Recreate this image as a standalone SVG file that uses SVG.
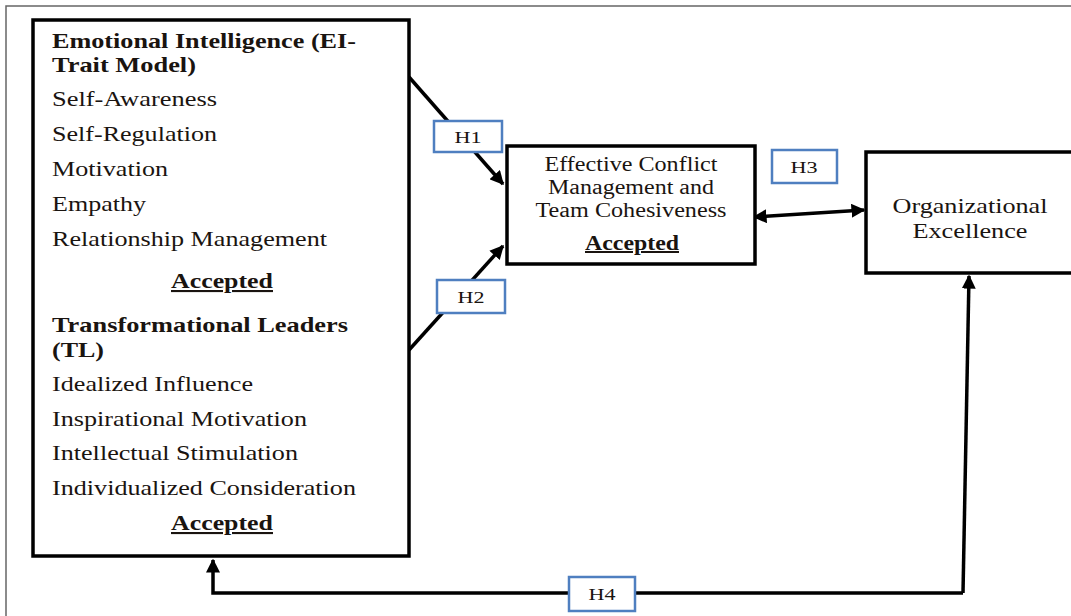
<svg xmlns="http://www.w3.org/2000/svg" width="1071" height="616" viewBox="0 0 1071 616">
<defs>
<marker id="ah" viewBox="0 0 10 10" refX="9" refY="5" markerWidth="4" markerHeight="4" orient="auto-start-reverse" markerUnits="strokeWidth">
<path d="M0,0 L10,5 L0,10 z" fill="#000"/>
</marker>
<style>
.box{fill:#fff;stroke:#000;stroke-width:3.5}
.hb{fill:#fff;stroke:#4f7fc0;stroke-width:2.5}
.t{font-family:"Liberation Serif","Times New Roman",serif;fill:#1a1410}
.it{font-size:21px}
.hd{font-size:21px;font-weight:bold}
.b{font-weight:bold}
.hl{font-size:17px;text-anchor:middle}
.c{text-anchor:middle}
.ln{fill:none;stroke:#000;stroke-width:3.5}
</style>
</defs>
<rect width="1071" height="616" fill="#fff"/>
<path d="M6,616 V6 H1071" fill="none" stroke="#666" stroke-width="1.5"/>
<g id="connectors">
<line class="ln" x1="409" y1="77" x2="503" y2="184" marker-end="url(#ah)"/>
<line class="ln" x1="409" y1="350" x2="503" y2="246" marker-end="url(#ah)"/>
<line class="ln" x1="754" y1="217" x2="864" y2="210" marker-start="url(#ah)" marker-end="url(#ah)"/>
<polyline class="ln" points="963,593 213,593 213,560" marker-end="url(#ah)"/>
<line class="ln" x1="963" y1="593" x2="969" y2="276" marker-end="url(#ah)"/>
</g>
<g id="ei-tl">
<rect class="box" x="33" y="20" width="376" height="536"/>
<text class="t hd" x="52" y="48" textLength="304" lengthAdjust="spacingAndGlyphs">Emotional Intelligence (EI-</text>
<text class="t hd" x="52" y="72" textLength="144" lengthAdjust="spacingAndGlyphs">Trait Model)</text>
<text class="t it" x="52" y="106" textLength="165" lengthAdjust="spacingAndGlyphs">Self-Awareness</text>
<text class="t it" x="52" y="141" textLength="165" lengthAdjust="spacingAndGlyphs">Self-Regulation</text>
<text class="t it" x="52" y="176" textLength="116" lengthAdjust="spacingAndGlyphs">Motivation</text>
<text class="t it" x="52" y="211" textLength="94" lengthAdjust="spacingAndGlyphs">Empathy</text>
<text class="t it" x="52" y="246" textLength="275" lengthAdjust="spacingAndGlyphs">Relationship Management</text>
<text class="t hd c" x="222" y="288" textLength="102" lengthAdjust="spacingAndGlyphs" text-decoration="underline">Accepted</text>
<text class="t hd" x="52" y="332" textLength="296" lengthAdjust="spacingAndGlyphs">Transformational Leaders</text>
<text class="t hd" x="52" y="357" textLength="52" lengthAdjust="spacingAndGlyphs">(TL)</text>
<text class="t it" x="52" y="391" textLength="201" lengthAdjust="spacingAndGlyphs">Idealized Influence</text>
<text class="t it" x="52" y="426" textLength="255" lengthAdjust="spacingAndGlyphs">Inspirational Motivation</text>
<text class="t it" x="52" y="460" textLength="246" lengthAdjust="spacingAndGlyphs">Intellectual Stimulation</text>
<text class="t it" x="52" y="495" textLength="304" lengthAdjust="spacingAndGlyphs">Individualized Consideration</text>
<text class="t hd c" x="222" y="530" textLength="102" lengthAdjust="spacingAndGlyphs" text-decoration="underline">Accepted</text>
</g>
<g id="ecm">
<rect class="box" x="507" y="146" width="248" height="118"/>
<text class="t c" x="631" y="171" font-size="20" textLength="173" lengthAdjust="spacingAndGlyphs">Effective Conflict</text>
<text class="t c" x="631" y="194" font-size="20" textLength="166" lengthAdjust="spacingAndGlyphs">Management and</text>
<text class="t c" x="631" y="217" font-size="20" textLength="191" lengthAdjust="spacingAndGlyphs">Team Cohesiveness</text>
<text class="t b c" x="632" y="250" font-size="20" textLength="94" lengthAdjust="spacingAndGlyphs" text-decoration="underline">Accepted</text>
</g>
<g id="oe">
<rect class="box" x="866" y="152" width="215" height="121"/>
<text class="t c" x="970" y="213" font-size="21" textLength="155" lengthAdjust="spacingAndGlyphs">Organizational</text>
<text class="t c" x="970" y="238" font-size="21" textLength="115" lengthAdjust="spacingAndGlyphs">Excellence</text>
</g>
<g id="h1"><rect class="hb" x="434" y="121" width="68" height="31"/><text class="t hl" x="468" y="143" textLength="27" lengthAdjust="spacingAndGlyphs">H1</text></g>
<g id="h2"><rect class="hb" x="437" y="280" width="68" height="33"/><text class="t hl" x="471" y="303" textLength="27" lengthAdjust="spacingAndGlyphs">H2</text></g>
<g id="h3"><rect class="hb" x="772" y="150" width="65" height="33"/><text class="t hl" x="804" y="173" textLength="27" lengthAdjust="spacingAndGlyphs">H3</text></g>
<g id="h4"><rect class="hb" x="569" y="577" width="66" height="34"/><text class="t hl" x="602" y="600" textLength="27" lengthAdjust="spacingAndGlyphs">H4</text></g>
</svg>
